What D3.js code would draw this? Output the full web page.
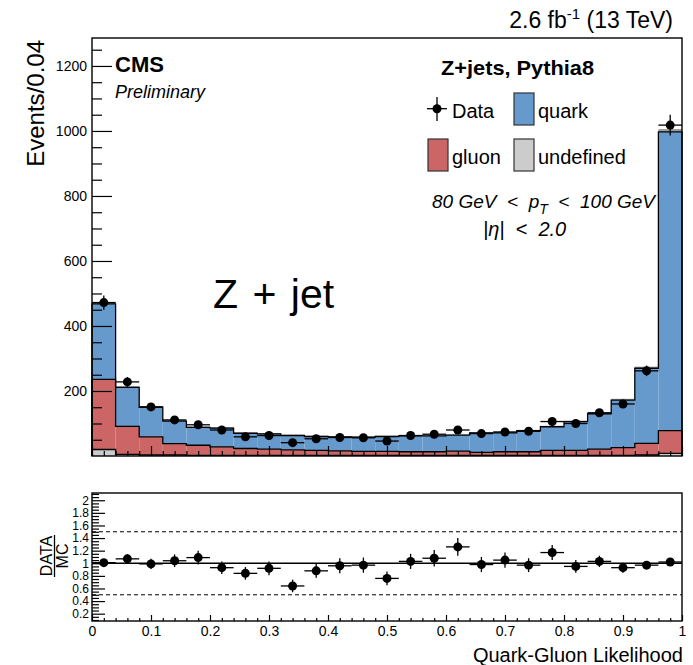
<!DOCTYPE html>
<html><head><meta charset="utf-8">
<script src="https://cdn.jsdelivr.net/npm/d3@7"></script>
<style>
body{margin:0;background:#fff}
svg{display:block}
text{font-family:"Liberation Sans",Arial,Helvetica,sans-serif;fill:#000}
.pre{white-space:pre}
</style>
</head><body>
<svg id="chart" width="693" height="665"></svg>
<script>
// ---------- data ----------
const binLow  = [0,0.04,0.08,0.12,0.16,0.20,0.24,0.28,0.32,0.36,0.40,0.44,0.48,0.52,0.56,0.60,0.64,0.68,0.72,0.76,0.80,0.84,0.88,0.92,0.96];
const binHigh = [0.04,0.08,0.12,0.16,0.20,0.24,0.28,0.32,0.36,0.40,0.44,0.48,0.52,0.56,0.60,0.64,0.68,0.72,0.76,0.80,0.84,0.88,0.92,0.96,1.00];
const binCenter = [0.02,0.06,0.10,0.14,0.18,0.22,0.26,0.30,0.34,0.38,0.42,0.46,0.50,0.54,0.58,0.62,0.66,0.70,0.74,0.78,0.82,0.86,0.90,0.94,0.98];
const undefinedVals = [20,5,3,3,2,2,2,2,2,2,2,2,2,2,2,2,2,2,2,2,2,2,2,3,8];
const gluonVals     = [216,86,56,35,31,26,21,19,17,15,14,12,12,11,11,13,9,11,11,15,15,19,24,36,70];
const quarkVals     = [232,120,91,69,55,58,47,47,44,43,43,44,46,49,49,49,60,58,65,73,89,109,146,231,919];
const dataVals      = [472,228,151,111,96,80,59,63,41,53,57,56,46,63,67,80,69,74,76,106,100,133,160,262,1018];
const dataErr       = [22,15,12,10.5,10,9,7.7,8,6.4,7.3,7.5,7.4,6.8,7.9,8.2,9,8.3,8.6,8.7,10.3,10,11.5,12.6,16.2,32];
const mcErr         = [6,4,3,3,3,3,2.5,2.5,2.5,2.5,2.5,2.5,2.5,2.5,2.5,2.5,2.5,2.5,2.5,3,3,3,4,5,9];
const ratioVals     = [1.01,1.07,0.99,1.04,1.09,0.93,0.84,0.92,0.64,0.88,0.96,0.97,0.76,1.03,1.08,1.26,0.98,1.05,0.97,1.17,0.95,1.03,0.93,0.97,1.02];
const ratioErr      = [0.05,0.07,0.08,0.10,0.11,0.10,0.10,0.11,0.10,0.11,0.12,0.12,0.11,0.12,0.13,0.14,0.12,0.12,0.11,0.12,0.10,0.09,0.08,0.06,0.03];

const mainYTicks  = [200,400,600,800,1000,1200];
const ratioYTicks = [0.2,0.4,0.6,0.8,1,1.2,1.4,1.6,1.8,2];
const xTicks      = [0,0.1,0.2,0.3,0.4,0.5,0.6,0.7,0.8,0.9,1];
const xTickLabels = ["0","0.1","0.2","0.3","0.4","0.5","0.6","0.7","0.8","0.9","1"];

const colors = {quark:"#6699cc", gluon:"#cc6666", undef:"#cccccc"};

// ---------- layout ----------
const svg = d3.select("#chart");
const L = 92, R = 682;
const mainTop = 38, mainBot = 456;
const ratTop = 493, ratBot = 621;

const x  = d3.scaleLinear().domain([0,1]).range([L,R]);
const y  = d3.scaleLinear().domain([0,1286]).range([mainBot,mainTop]);
const yr = d3.scaleLinear().domain([0.084,2.115]).range([ratBot,ratTop]);

// ---------- main panel: stacked histogram ----------
const bins = binLow.map((lo,i)=>{
  const u = undefinedVals[i], g = gluonVals[i], q = quarkVals[i];
  return {lo, hi:binHigh[i], c:binCenter[i], u, g, q, tot:u+g+q, data:dataVals[i], de:dataErr[i], me:mcErr[i]};
});

const main = svg.append("g");
const layers = [
  {key:"quark", y0:d=>d.u+d.g, y1:d=>d.tot, fill:colors.quark},
  {key:"gluon", y0:d=>d.u, y1:d=>d.u+d.g, fill:colors.gluon},
  {key:"undef", y0:d=>0, y1:d=>d.u, fill:colors.undef}
];
layers.forEach(l=>{
  main.selectAll(null).data(bins).enter().append("rect")
    .attr("x",d=>x(d.lo)).attr("width",d=>x(d.hi)-x(d.lo))
    .attr("y",d=>y(l.y1(d))).attr("height",d=>y(l.y0(d))-y(l.y1(d)))
    .attr("fill",l.fill);
});
// MC uncertainty (grey) band above total
main.selectAll(null).data(bins).enter().append("rect")
  .attr("x",d=>x(d.lo)).attr("width",d=>x(d.hi)-x(d.lo))
  .attr("y",d=>y(d.tot+d.me)).attr("height",d=>y(d.tot)-y(d.tot+d.me))
  .attr("fill","#8c8c8c").attr("opacity",0.85);
function stepPath(vals){
  let p = "M"+x(0)+","+y(0);
  bins.forEach(d=>{ p += "L"+x(d.lo)+","+y(vals(d))+"L"+x(d.hi)+","+y(vals(d)); });
  p += "L"+x(1)+","+y(0);
  return p;
}
[d=>d.tot, d=>d.u+d.g, d=>d.u].forEach(f=>{
  main.append("path").attr("d",stepPath(f)).attr("fill","none").attr("stroke","#000").attr("stroke-width",1.3);
});

// data points
const dp = main.append("g");
dp.selectAll(null).data(bins).enter().append("line")
  .attr("x1",d=>x(d.lo)).attr("x2",d=>x(d.hi)).attr("y1",d=>y(d.data)).attr("y2",d=>y(d.data))
  .attr("stroke","#000").attr("stroke-width",1.3);
dp.selectAll(null).data(bins).enter().append("line")
  .attr("x1",d=>x(d.c)).attr("x2",d=>x(d.c)).attr("y1",d=>y(d.data-d.de)).attr("y2",d=>y(d.data+d.de))
  .attr("stroke","#000").attr("stroke-width",1.3);
dp.selectAll(null).data(bins).enter().append("circle")
  .attr("cx",d=>x(d.c)).attr("cy",d=>y(d.data)).attr("r",4.5).attr("fill","#000");

// main axes (ticks inside)
function styleAxis(g){ g.select(".domain").remove(); g.selectAll("line").attr("stroke","#000").attr("stroke-width",1.2); }
const yMinor = d3.range(50,1286,50).filter(v=>v%200!==0);
svg.append("g").attr("transform",`translate(${L},0)`)
  .call(d3.axisLeft(y).tickValues(yMinor).tickSizeInner(-10).tickSizeOuter(0).tickFormat(""))
  .call(styleAxis);
svg.append("g").attr("transform",`translate(${L},0)`)
  .call(d3.axisLeft(y).tickValues(mainYTicks).tickSizeInner(-20).tickSizeOuter(0).tickPadding(5).tickFormat(d3.format("d")))
  .call(styleAxis)
  .call(g=>g.selectAll("text").attr("font-size",14).attr("font-family","Liberation Sans, Arial, sans-serif").attr("fill","#000"));
const xMinor = d3.range(0.02,1,0.02).filter(v=>Math.abs(v*10-Math.round(v*10))>1e-6);
svg.append("g").attr("transform",`translate(0,${mainBot})`)
  .call(d3.axisBottom(x).tickValues(xMinor).tickSizeInner(-5).tickSizeOuter(0).tickFormat(""))
  .call(styleAxis);
svg.append("g").attr("transform",`translate(0,${mainBot})`)
  .call(d3.axisBottom(x).tickValues(xTicks).tickSizeInner(-10).tickSizeOuter(0).tickFormat(""))
  .call(styleAxis);

svg.append("rect").attr("x",L).attr("y",mainTop).attr("width",R-L).attr("height",mainBot-mainTop)
  .attr("fill","none").attr("stroke","#000").attr("stroke-width",1.4);

// ---------- ratio panel ----------
const rat = svg.append("g");
rat.append("line").attr("x1",L).attr("x2",R).attr("y1",yr(1)).attr("y2",yr(1)).attr("stroke","#000").attr("stroke-width",1.5);
[1.5,0.5].forEach(v=>{
  rat.append("line").attr("x1",L).attr("x2",R).attr("y1",yr(v)).attr("y2",yr(v))
    .attr("stroke","#000").attr("stroke-width",1).attr("stroke-dasharray","4,3");
});
const rb = binLow.map((lo,i)=>({lo,hi:binHigh[i],c:binCenter[i],r:ratioVals[i],e:ratioErr[i]}));
rat.selectAll(null).data(rb).enter().append("line")
  .attr("x1",d=>x(d.lo)).attr("x2",d=>x(d.hi)).attr("y1",d=>yr(d.r)).attr("y2",d=>yr(d.r))
  .attr("stroke","#000").attr("stroke-width",1.3);
rat.selectAll(null).data(rb).enter().append("line")
  .attr("x1",d=>x(d.c)).attr("x2",d=>x(d.c)).attr("y1",d=>yr(d.r-d.e)).attr("y2",d=>yr(d.r+d.e))
  .attr("stroke","#000").attr("stroke-width",1.3);
rat.selectAll(null).data(rb).enter().append("circle")
  .attr("cx",d=>x(d.c)).attr("cy",d=>yr(d.r)).attr("r",4.5).attr("fill","#000");

const rMinor = d3.range(0.1,2.11,0.05).filter(v=>Math.abs(v*5-Math.round(v*5))>1e-6);
svg.append("g").attr("transform",`translate(${L},0)`)
  .call(d3.axisLeft(yr).tickValues(rMinor).tickSizeInner(-7).tickSizeOuter(0).tickFormat(""))
  .call(styleAxis);
svg.append("g").attr("transform",`translate(${L},0)`)
  .call(d3.axisLeft(yr).tickValues(ratioYTicks).tickSizeInner(-13).tickSizeOuter(0).tickPadding(3).tickFormat(d=>String(+d.toFixed(1))))
  .call(styleAxis)
  .call(g=>g.selectAll("text").attr("font-size",12).attr("fill","#000"));
svg.append("g").attr("transform",`translate(0,${ratBot})`)
  .call(d3.axisBottom(x).tickValues(xMinor).tickSizeInner(-3).tickSizeOuter(0).tickFormat(""))
  .call(styleAxis);
svg.append("g").attr("transform",`translate(0,${ratBot})`)
  .call(d3.axisBottom(x).tickValues(xTicks).tickSizeInner(-6).tickSizeOuter(0).tickPadding(5).tickFormat((d,i)=>xTickLabels[i]))
  .call(styleAxis)
  .call(g=>g.selectAll("text").attr("font-size",14).attr("fill","#000"));
svg.append("rect").attr("x",L).attr("y",ratTop).attr("width",R-L).attr("height",ratBot-ratTop)
  .attr("fill","none").attr("stroke","#000").attr("stroke-width",1.4);

// ---------- texts ----------
svg.append("text").attr("transform","translate(44,40) rotate(-90)").attr("text-anchor","end")
  .attr("font-size",24).text("Events/0.04");

const fr = svg.append("g").attr("transform","translate(0,556) rotate(-90)");
fr.append("text").attr("x",0).attr("y",52).attr("text-anchor","middle").attr("font-size",16).text("DATA");
fr.append("line").attr("x1",-21).attr("x2",21).attr("y1",54.5).attr("y2",54.5).attr("stroke","#000").attr("stroke-width",1.3);
fr.append("text").attr("x",0).attr("y",68).attr("text-anchor","middle").attr("font-size",16).text("MC");

svg.append("text").attr("x",683).attr("y",662).attr("text-anchor","end").attr("font-size",20).text("Quark-Gluon Likelihood");

const lumi = svg.append("text").attr("x",673).attr("y",28).attr("text-anchor","end").attr("font-size",23);
lumi.append("tspan").text("2.6 fb");
lumi.append("tspan").attr("font-size",15).attr("dy",-9).text("-1");
lumi.append("tspan").attr("class","pre").attr("dy",9).text(" (13 TeV)");

svg.append("text").attr("x",115).attr("y",72).attr("font-size",22).attr("font-weight","bold").text("CMS");
svg.append("text").attr("x",115).attr("y",98).attr("font-size",18).attr("font-style","italic").text("Preliminary");

svg.append("text").attr("x",441).attr("y",75).attr("font-size",21).attr("font-weight","bold")
  .attr("textLength",153).attr("lengthAdjust","spacingAndGlyphs").text("Z+jets, Pythia8");

// legend
const lg = svg.append("g");
lg.append("line").attr("x1",427).attr("x2",447).attr("y1",108.7).attr("y2",108.7).attr("stroke","#000").attr("stroke-width",1.3);
lg.append("line").attr("x1",437).attr("x2",437).attr("y1",97).attr("y2",121).attr("stroke","#000").attr("stroke-width",1.3);
lg.append("circle").attr("cx",437).attr("cy",108.7).attr("r",4.5).attr("fill","#000");
lg.append("text").attr("x",452).attr("y",118).attr("font-size",20).text("Data");
const boxes = [
  {x:514,y:93,fill:colors.quark,label:"quark"},
  {x:428,y:139,fill:colors.gluon,label:"gluon"},
  {x:514,y:139,fill:colors.undef,label:"undefined"}
];
boxes.forEach(b=>{
  lg.append("rect").attr("x",b.x).attr("y",b.y).attr("width",20).attr("height",32)
    .attr("fill",b.fill).attr("stroke","#333").attr("stroke-width",1.2);
  lg.append("text").attr("x",b.x+24).attr("y",b.y+25).attr("font-size",20).text(b.label);
});

const pt = svg.append("text").attr("class","pre").attr("x",432).attr("y",208).attr("font-size",19).attr("font-style","italic");
pt.append("tspan").attr("class","pre").text("80 GeV  <  p");
pt.append("tspan").attr("font-size",14).attr("dy",6).text("T");
pt.append("tspan").attr("class","pre").attr("dy",-6).text("  <  100 GeV");
svg.append("text").attr("class","pre").attr("x",483).attr("y",236).attr("font-size",20).attr("font-style","italic")
  .text("|η|  <  2.0");

svg.append("text").attr("x",213).attr("y",308).attr("font-size",41).attr("word-spacing",3)
  .attr("font-family","'Open Sans','Noto Sans',sans-serif").text("Z + jet");
</script>
</body></html>
